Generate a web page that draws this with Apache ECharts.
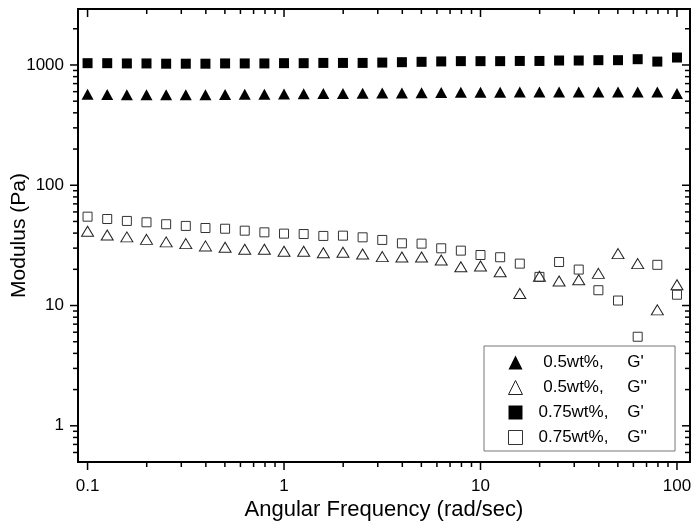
<!DOCTYPE html>
<html><head><meta charset="utf-8">
<script src="https://cdn.jsdelivr.net/npm/echarts@6/dist/echarts.min.js"></script>
<style>html,body{margin:0;padding:0;background:#fff}#c{width:700px;height:528px}</style>
</head><body><div id="c"></div>
<script>
// Angular frequency (rad/sec)
const freq = [0.1, 0.1259, 0.1585, 0.1995, 0.2512, 0.3162, 0.3981, 0.5012, 0.631, 0.7943,
  1, 1.259, 1.585, 1.995, 2.512, 3.162, 3.981, 5.012, 6.31, 7.943,
  10, 12.59, 15.85, 19.95, 25.12, 31.62, 39.81, 50.12, 63.1, 79.43, 100];
// 0.5wt%, G'
const gp05 = [570, 568, 566, 565, 565, 565, 566, 568, 570, 572,
  574, 576, 578, 580, 582, 584, 586, 588, 590, 592,
  593, 594, 595, 596, 596, 596, 596, 596, 596, 596, 580];
// 0.5wt%, G''
const gpp05 = [41.4, 38.6, 37.2, 35.5, 33.8, 32.7, 31.3, 30.5, 29.4, 29.4,
  28.3, 28.3, 27.5, 27.7, 26.8, 25.5, 25.3, 25.3, 23.9, 21.0,
  21.3, 19.1, 12.6, 17.5, 16.0, 16.4, 18.5, 27.0, 22.3, 9.2, 14.9];
// 0.75wt%, G'
const gp075 = [1035, 1035, 1030, 1030, 1025, 1025, 1025, 1030, 1030, 1030,
  1035, 1035, 1040, 1040, 1040, 1047, 1055, 1062, 1070, 1076,
  1076, 1076, 1080, 1080, 1089, 1089, 1096, 1096, 1117, 1067, 1153];
// 0.75wt%, G''
const gpp075 = [54.8, 52.4, 50.5, 49.2, 47.4, 45.9, 44.1, 43.5, 41.9, 40.6,
  39.6, 39.3, 37.9, 38.1, 36.9, 35.1, 32.9, 32.7, 29.9, 28.6,
  26.3, 25.2, 22.3, 17.3, 23.0, 19.9, 13.4, 11.0, 5.5, 21.8, 12.3];

const seriesNames = [" 0.5wt%,     G'", " 0.5wt%,     G''", "0.75wt%,    G'", "0.75wt%,    G''"];

// tick values
const xMajorTicks = [0.1, 1, 10, 100];
const xMinorTicks = [0.2, 0.3, 0.4, 0.5, 0.6, 0.7, 0.8, 0.9, 2, 3, 4, 5, 6, 7, 8, 9, 20, 30, 40, 50, 60, 70, 80, 90];
const yMajorTicks = [1, 10, 100, 1000];
const yMinorTicks = [0.6, 0.7, 0.8, 0.9, 2, 3, 4, 5, 6, 7, 8, 9, 20, 30, 40, 50, 60, 70, 80, 90,
  200, 300, 400, 500, 600, 700, 800, 900, 2000];

const X_MIN = 0.0894, X_MAX = 116.5, Y_MIN = 0.5, Y_MAX = 2920;
const FONT = "'Liberation Sans', Arial, sans-serif";
const MAJOR_LEN = 8, MINOR_LEN = 5;

function isPow10(v) { const l = Math.log10(v); return Math.abs(l - Math.round(l)) < 1e-6; }
function fmt(v) { return isPow10(v) ? String(+Number(v).toPrecision(6)) : ''; }
const pts = arr => freq.map((f, i) => [f, arr[i]]);

const tickStyle = { stroke: '#000', lineWidth: 1.5 };

const xTickData = xMajorTicks.map(v => [v, Y_MIN, 1]).concat(xMinorTicks.map(v => [v, Y_MIN, 0]));
const yTickData = yMajorTicks.map(v => [X_MIN, v, 1]).concat(yMinorTicks.map(v => [X_MIN, v, 0]));

const chart = echarts.init(document.getElementById('c'), null, { renderer: 'canvas' });
chart.setOption({
  animation: false,
  backgroundColor: '#fff',
  textStyle: { fontFamily: FONT },
  grid: { left: 78, right: 10, top: 9, bottom: 66, outerBoundsMode: 'none', containLabel: false,
    show: true, borderColor: '#000', borderWidth: 2, backgroundColor: 'transparent' },
  xAxis: {
    type: 'log', logBase: 10, min: X_MIN, max: X_MAX,
    name: 'Angular Frequency (rad/sec)', nameLocation: 'middle', nameGap: 37, nameMoveOverlap: false,
    nameTextStyle: { fontSize: 22, color: '#000', fontFamily: FONT },
    axisLine: { show: false }, axisTick: { show: false }, splitLine: { show: false },
    axisLabel: { formatter: fmt, fontSize: 17, color: '#000', margin: 16, fontFamily: FONT, showMinLabel: true, showMaxLabel: true }
  },
  yAxis: {
    type: 'log', logBase: 10, min: Y_MIN, max: Y_MAX,
    name: 'Modulus (Pa)', nameLocation: 'middle', nameGap: 48, nameMoveOverlap: false,
    nameTextStyle: { fontSize: 21, color: '#000', fontFamily: FONT },
    axisLine: { show: false }, axisTick: { show: false }, splitLine: { show: false },
    axisLabel: { formatter: fmt, fontSize: 17, color: '#000', margin: 14, fontFamily: FONT }
  },
  legend: {
    orient: 'vertical', left: 484, top: 346,
    data: seriesNames,
    padding: [8, 28, 5, 24], itemGap: 8, itemWidth: 14, itemHeight: 14,
    symbolKeepAspect: true,
    borderColor: '#777', borderWidth: 1, backgroundColor: '#fff',
    itemStyle: { borderWidth: 1, opacity: 1 },
    textStyle: { fontSize: 17, color: '#000', fontFamily: FONT, padding: [0, 0, 0, 11] },
    selectedMode: false
  },
  series: [
    { name: seriesNames[0], type: 'scatter', symbol: 'triangle', symbolSize: [12, 11], data: pts(gp05),
      itemStyle: { color: '#000', borderWidth: 0, opacity: 1 } },
    { name: seriesNames[1], type: 'scatter', symbol: 'triangle', symbolSize: [12, 10], data: pts(gpp05),
      itemStyle: { color: 'rgba(0,0,0,0)', borderColor: '#222', borderWidth: 1, opacity: 1 } },
    { name: seriesNames[2], type: 'scatter', symbol: 'rect', symbolSize: 10, data: pts(gp075),
      itemStyle: { color: '#000', borderWidth: 0, opacity: 1 } },
    { name: seriesNames[3], type: 'scatter', symbol: 'rect', symbolSize: 9, data: pts(gpp075),
      itemStyle: { color: 'rgba(0,0,0,0)', borderColor: '#333', borderWidth: 1, opacity: 1 } },
    { type: 'custom', name: 'xticks', silent: true, z: 10, data: xTickData, encode: { x: 0, y: 1 },
      renderItem: function (params, api) {
        const v = api.value(0), len = api.value(2) ? MAJOR_LEN : MINOR_LEN;
        const b = api.coord([v, Y_MIN]), t = api.coord([v, Y_MAX]);
        return { type: 'group', children: [
          { type: 'line', shape: { x1: b[0], y1: b[1], x2: b[0], y2: b[1] + len }, style: tickStyle },
          { type: 'line', shape: { x1: t[0], y1: t[1], x2: t[0], y2: t[1] + len }, style: tickStyle }
        ] };
      } },
    { type: 'custom', name: 'yticks', silent: true, z: 10, data: yTickData, encode: { x: 0, y: 1 },
      renderItem: function (params, api) {
        const v = api.value(1), len = api.value(2) ? MAJOR_LEN : MINOR_LEN;
        const l = api.coord([X_MIN, v]), r = api.coord([X_MAX, v]);
        return { type: 'group', children: [
          { type: 'line', shape: { x1: l[0], y1: l[1], x2: l[0] - len, y2: l[1] }, style: tickStyle },
          { type: 'line', shape: { x1: r[0], y1: r[1], x2: r[0] - len, y2: r[1] }, style: tickStyle }
        ] };
      } }
  ]
});
</script>
</body></html>
